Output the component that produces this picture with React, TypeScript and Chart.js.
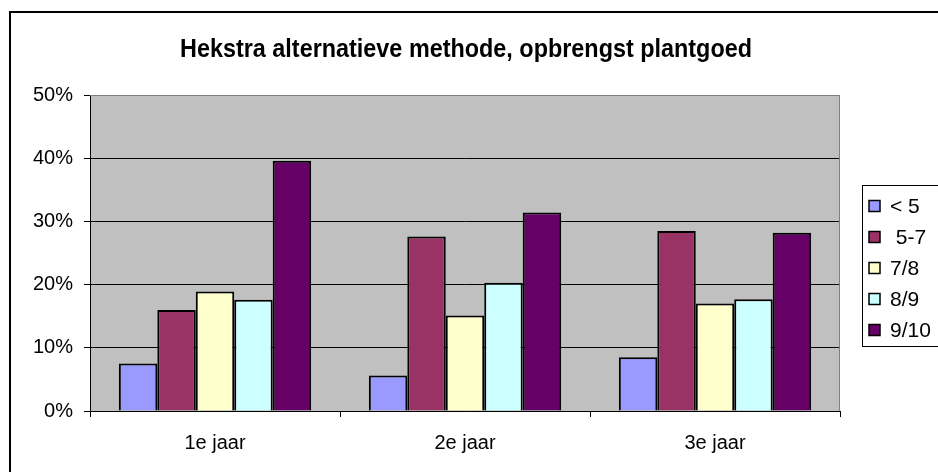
import React, { useEffect, useRef } from "react";
import { Chart, registerables } from "chart.js";

Chart.register(...registerables);

const TITLE = "Hekstra alternatieve methode, opbrengst plantgoed";
const categories = ["1e jaar", "2e jaar", "3e jaar"];
const seriesLabels = ["< 5", " 5-7", "7/8", "8/9", "9/10"];
const seriesColors = ["#9999FF", "#993366", "#FFFFCC", "#CCFFFF", "#660066"];
const lt5 = [7.5, 5.6, 8.5];
const s5to7 = [16.0, 27.6, 28.5];
const s7to8 = [18.9, 15.1, 17.0];
const s8to9 = [17.6, 20.3, 17.7];
const s9to10 = [39.6, 31.4, 28.2];
const yTicks = [0, 10, 20, 30, 40, 50];

const seriesValues = [lt5, s5to7, s7to8, s8to9, s9to10];

const FONT = "'Liberation Sans', Arial, sans-serif";

const decorPlugin = {
  id: "decor",
  beforeDraw(chart: any) {
    const { ctx, chartArea: a } = chart;
    ctx.save();
    ctx.fillStyle = "#ffffff";
    ctx.fillRect(0, 0, chart.width, chart.height);
    ctx.fillStyle = "#C0C0C0";
    ctx.fillRect(a.left, a.top, a.right - a.left, a.bottom - a.top);
    ctx.restore();
  },
  afterDraw(chart: any) {
    const { ctx, chartArea: a } = chart;
    ctx.save();
    // plot border (grey) top & right
    ctx.strokeStyle = "#808080";
    ctx.lineWidth = 1;
    ctx.beginPath();
    ctx.moveTo(a.left, a.top + 0.5);
    ctx.lineTo(a.right - 0.5, a.top + 0.5);
    ctx.lineTo(a.right - 0.5, a.bottom);
    ctx.stroke();
    // outer chart border
    ctx.strokeStyle = "#000";
    ctx.lineWidth = 2;
    ctx.strokeRect(10, 12, chart.width + 20, chart.height + 20);
    // title (condensed horizontally)
    ctx.fillStyle = "#000";
    ctx.font = "bold 25px " + FONT;
    ctx.textAlign = "center";
    ctx.textBaseline = "alphabetic";
    const w = ctx.measureText(TITLE).width;
    const sx = 572 / w;
    ctx.save();
    ctx.translate(466, 57);
    ctx.scale(sx, 1);
    ctx.fillText(TITLE, 0, 0);
    ctx.restore();
    // legend
    ctx.lineWidth = 1;
    ctx.strokeStyle = "#000";
    ctx.fillStyle = "#fff";
    ctx.fillRect(862.5, 185.5, 100, 161);
    ctx.strokeRect(862.5, 185.5, 100, 161);
    ctx.font = "21px " + FONT;
    ctx.textAlign = "left";
    ctx.textBaseline = "middle";
    chart.data.datasets.forEach((ds: any, i: number) => {
      const cy = 206 + i * 31;
      ctx.fillStyle = ds.backgroundColor;
      ctx.fillRect(869, cy - 5.5, 11, 11);
      ctx.lineWidth = 1.5;
      ctx.strokeStyle = "#000";
      ctx.strokeRect(869, cy - 5.5, 11, 11);
      ctx.fillStyle = "#000";
      ctx.fillText(ds.label, 890, cy + 1);
    });
    ctx.restore();
  },
};

export default function App() {
  const ref = useRef<HTMLCanvasElement | null>(null);
  useEffect(() => {
    document.body.style.margin = "0";
    const chart = new Chart(ref.current as HTMLCanvasElement, {
      type: "bar",
      data: {
        labels: categories,
        datasets: seriesLabels.map((l, i) => ({
          label: l,
          data: seriesValues[i],
          backgroundColor: seriesColors[i],
          borderColor: "#000",
          borderWidth: 2,
          categoryPercentage: 5 / 6.5,
          barPercentage: 1,
        })),
      },
      options: {
        responsive: false,
        animation: false,
        devicePixelRatio: 1,
        layout: { padding: { top: 95, left: 0, right: 98, bottom: 0 } },
        plugins: { legend: { display: false }, tooltip: { enabled: false }, title: { display: false } },
        scales: {
          x: {
            offset: true,
            grid: { display: true, drawOnChartArea: false, drawTicks: true, tickLength: 6, color: "#000", offset: true },
            border: { display: true, color: "#000", width: 1 },
            ticks: { color: "#000", font: { family: FONT, size: 20 }, padding: 14, maxRotation: 0 },
            afterFit: (s: any) => { s.height = 61; },
          },
          y: {
            min: 0,
            max: 50,
            afterBuildTicks: (s: any) => { s.ticks = yTicks.map((v) => ({ value: v })); },
            grid: {
              color: (c: any) => (c.tick && c.tick.value === 50 ? "#808080" : "#000"),
              tickColor: "#000",
              tickLength: 6,
              lineWidth: 1,
            },
            border: { display: true, color: "#000", width: 1 },
            ticks: { color: "#000", font: { family: FONT, size: 20 }, padding: 11, callback: (v: any) => v + "%" },
            afterFit: (s: any) => { s.width = 90; },
          },
        },
      },
      plugins: [decorPlugin],
    });
    return () => chart.destroy();
  }, []);
  return (
    <div style={{ position: "absolute", left: 0, top: 0, width: 938, height: 472 }}>
      <canvas ref={ref} width={938} height={472} />
    </div>
  );
}
